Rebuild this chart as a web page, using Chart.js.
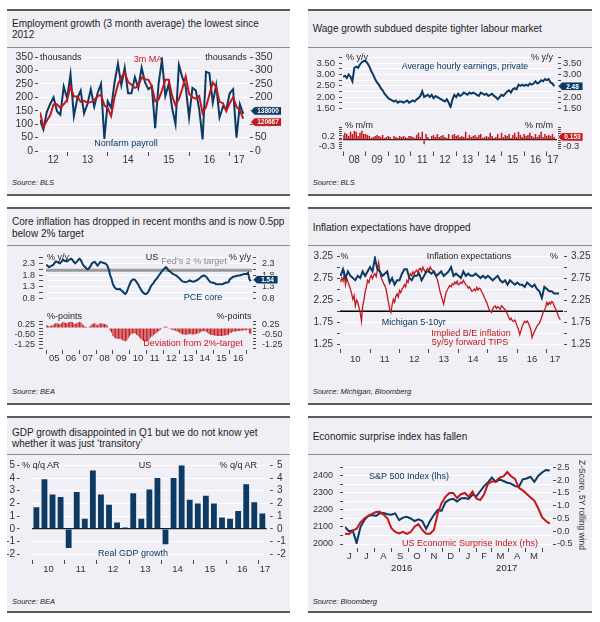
<!DOCTYPE html>
<html><head><meta charset="utf-8">
<script src="https://cdn.jsdelivr.net/npm/chart.js@4.4.1/dist/chart.umd.min.js"></script>
<style>
html,body{margin:0;padding:0;background:#fff;}
body{position:relative;width:600px;height:622px;overflow:hidden;font-family:'Liberation Sans',Arial,sans-serif;}
.panel{position:absolute;background:#efeff5;border-top:2px solid #5b5b5b;border-bottom:2px solid #5b5b5b;box-sizing:border-box;}
.sep{position:absolute;height:1px;background:#8d8d8d;}
.t{position:absolute;white-space:nowrap;line-height:1;}
canvas{position:absolute;}
</style></head><body>
<div class="panel" style="left:7px;top:9px;width:283px;height:187px"></div>
<div class="panel" style="left:308px;top:9px;width:284px;height:187px"></div>
<div class="panel" style="left:7px;top:207px;width:283px;height:198px"></div>
<div class="panel" style="left:308px;top:207px;width:284px;height:198px"></div>
<div class="panel" style="left:7px;top:416px;width:283px;height:197px"></div>
<div class="panel" style="left:308px;top:416px;width:284px;height:197px"></div>
<div class="sep" style="left:7px;top:47px;width:283px"></div>
<div class="sep" style="left:308px;top:47px;width:284px"></div>
<div class="sep" style="left:7px;top:245px;width:283px"></div>
<div class="sep" style="left:308px;top:245px;width:284px"></div>
<div class="sep" style="left:7px;top:454px;width:283px"></div>
<div class="sep" style="left:308px;top:454px;width:284px"></div>
<script>
// ---------------- DATA ----------------
// Panel 1: Nonfarm payroll, monthly change (thousands), May 2012 - May 2017
const nfp = [115, 80, 145, 175, 200, 148, 135, 240,
  195, 285, 130, 195, 225, 140, 175, 230, 165, 215, 250, 45,
  185, 160, 255, 325, 245, 310, 215, 215, 275, 235, 310, 255,
  230, 240, 85, 250, 340, 205, 250, 160, 100, 320, 275, 240,
  125, 235, 225, 155, 43, 295, 290, 180, 245, 125, 165, 155,
  215, 230, 50, 174, 138];
const nfpMA = [143, 90, 113, 133, 173, 174, 161, 174,
  190, 240, 203, 203, 183, 187, 180, 182, 190, 203, 210, 170,
  160, 130, 200, 247, 275, 293, 257, 247, 235, 242, 273, 267,
  265, 242, 185, 192, 225, 265, 265, 205, 170, 193, 232, 278,
  213, 200, 195, 205, 141, 164, 209, 255, 238, 183, 178, 148,
  178, 200, 165, 151, 120.667];

// Panel 2: Average hourly earnings, private, Jan 2008 - May 2017
const aheYoY = [2.9, 2.95, 2.85, 3.0, 2.9, 2.7, 3.3, 3.35, 3.3, 3.45, 3.55, 3.6,
  3.6, 3.5, 3.35, 3.15, 3.0, 2.8, 2.65, 2.55, 2.4, 2.3, 2.15, 2.05,
  1.95, 1.9, 1.85, 1.8, 1.85, 1.75, 1.8, 1.8, 1.75, 1.8, 1.85, 1.75,
  1.8, 1.85, 1.8, 1.9, 1.95, 2.05, 2.25, 2.0, 2.05, 2.1, 2.0, 2.1,
  1.95, 2.05, 2.0, 1.95, 1.9, 1.85, 1.8, 1.9, 1.75, 1.55, 1.9, 2.1,
  2.0, 2.15, 2.05, 2.1, 2.2, 2.15, 2.1, 2.2, 2.15, 2.2, 2.15, 2.1,
  2.05, 2.2, 2.15, 2.1, 2.15, 2.05, 2.1, 2.15, 2.05, 2.0, 1.9, 2.0,
  2.1, 2.05, 2.15, 2.25, 2.3, 2.2, 2.35, 2.4, 2.35, 2.55, 2.5, 2.55,
  2.5, 2.55, 2.5, 2.6, 2.55, 2.6, 2.7, 2.6, 2.65, 2.75, 2.7, 2.8,
  2.75, 2.8, 2.65, 2.6, 2.48];
const aheMoM = [0.25, 0.35, 0.3, 0.2, 0.4, 0.3, 0.45, 0.4, 0.2, 0.35, 0.45, 0.3,
  0.3, 0.25, 0.2, 0.1, 0.15, 0.2, 0.25, 0.2, 0.15, 0.25, 0.1, 0.15,
  0.2, 0.15, 0.05, 0.2, 0.15, 0.1, 0.2, 0.15, 0.2, 0.15, 0.1, 0.2,
  0.2, 0.15, 0.1, 0.25, 0.35, 0.15, 0.4, -0.2, 0.3, 0.15, -0.05, 0.2,
  0.25, 0.15, 0.3, 0.15, 0.2, 0.25, 0.15, 0.1, 0.3, 0.05, 0.25, 0.3,
  0.2, 0.25, 0.15, 0.2, 0.15, 0.4, 0.1, 0.25, 0.15, 0.2, 0.25, 0.15,
  0.25, 0.3, 0.1, 0.15, 0.2, 0.15, 0.35, 0.2, 0.1, 0.15, 0.3, 0.1,
  0.35, 0.15, 0.25, 0.2, 0.3, 0.1, 0.25, 0.35, 0.15, 0.4, 0.25, 0.15,
  0.3, 0.2, 0.25, 0.35, 0.2, 0.15, 0.3, 0.15, 0.25, 0.4, 0.15, 0.3,
  0.2, 0.25, 0.2, 0.3, 0.153];

// Panel 3: PCE core % y/y, Jan 2005 - Apr 2017, and deviation from 2% target
const pceCore = [2.23, 2.2, 2.14, 2.16, 2.2, 2.22, 2.3, 2.38, 2.36, 2.32, 2.3, 2.36,
  2.45, 2.42, 2.4, 2.38, 2.42, 2.46, 2.5, 2.44, 2.35, 2.3, 2.36, 2.42,
  2.5, 2.44, 2.3, 2.2, 2.14, 2.08, 2.04, 2.1, 2.18, 2.3, 2.34, 2.36,
  2.28, 2.2, 2.28, 2.36, 2.34, 2.32, 2.3, 2.28, 2.2, 2.05, 1.8, 1.65,
  1.41, 1.3, 1.23, 1.2, 1.2, 1.21, 1.15, 1.1, 1.03, 1.0, 1.08, 1.25,
  1.4, 1.53, 1.6, 1.62, 1.59, 1.5, 1.42, 1.3, 1.2, 1.1, 1.04, 1.0,
  1.0, 1.05, 1.15, 1.29, 1.38, 1.45, 1.55, 1.62, 1.69, 1.78, 1.86, 1.95,
  2.02, 2.08, 2.14, 2.08, 1.98, 1.96, 1.9, 1.85, 1.82, 1.8, 1.76, 1.7,
  1.65, 1.58, 1.53, 1.52, 1.5, 1.51, 1.53, 1.57, 1.55, 1.53, 1.52, 1.55,
  1.57, 1.6, 1.65, 1.71, 1.75, 1.78, 1.77, 1.72, 1.65, 1.56, 1.5, 1.48,
  1.47, 1.45, 1.42, 1.41, 1.41, 1.41, 1.41, 1.42, 1.45, 1.47, 1.48, 1.5,
  1.63, 1.66, 1.72, 1.74, 1.75, 1.77, 1.78, 1.78, 1.8, 1.82, 1.84, 1.84,
  1.84, 1.9, 1.62, 1.54];
const pceDeviation = [0.23, 0.2, 0.14, 0.16, 0.2, 0.22, 0.3, 0.38, 0.36, 0.32, 0.3, 0.36,
  0.45, 0.42, 0.4, 0.38, 0.42, 0.46, 0.5, 0.44, 0.35, 0.3, 0.36, 0.42,
  0.5, 0.44, 0.3, 0.2, 0.14, 0.08, 0.04, 0.1, 0.18, 0.3, 0.34, 0.36,
  0.28, 0.2, 0.28, 0.36, 0.34, 0.32, 0.3, 0.28, 0.2, 0.05, -0.2, -0.35,
  -0.59, -0.7, -0.77, -0.8, -0.8, -0.79, -0.85, -0.9, -0.97, -1.0, -0.92, -0.75,
  -0.6, -0.47, -0.4, -0.38, -0.41, -0.5, -0.58, -0.7, -0.8, -0.9, -0.96, -1.0,
  -1.0, -0.95, -0.85, -0.71, -0.62, -0.55, -0.45, -0.38, -0.31, -0.22, -0.14, -0.05,
  0.02, 0.08, 0.14, 0.08, -0.02, -0.04, -0.1, -0.15, -0.18, -0.2, -0.24, -0.3,
  -0.35, -0.42, -0.47, -0.48, -0.5, -0.49, -0.47, -0.43, -0.45, -0.47, -0.48, -0.45,
  -0.43, -0.4, -0.35, -0.29, -0.25, -0.22, -0.23, -0.28, -0.35, -0.44, -0.5, -0.52,
  -0.53, -0.55, -0.58, -0.59, -0.59, -0.59, -0.59, -0.58, -0.55, -0.53, -0.52, -0.5,
  -0.37, -0.34, -0.28, -0.26, -0.25, -0.23, -0.22, -0.22, -0.2, -0.18, -0.16, -0.16,
  -0.16, -0.1, -0.38, -0.46];
const fedTarget = 2.0;

// Panel 4: Michigan 5-10yr (monthly, Jan 2010 - Jun 2017), 5y5y TIPS B/E (semi-monthly, Jan 2010 - mid 2017)
const michigan = [2.8, 2.95, 2.75, 2.9, 2.8, 2.75, 2.7, 2.8, 2.75, 2.9, 2.8, 2.9,
  3.0, 2.9, 3.2, 2.95, 2.9, 2.8, 2.85, 2.9, 2.65, 2.75, 2.6, 2.7,
  2.7, 2.85, 2.95, 2.95, 2.75, 2.7, 2.8, 2.8, 2.85, 2.7, 2.8, 2.9,
  2.9, 2.85, 2.9, 2.8, 2.85, 2.9, 2.8, 2.85, 2.9, 3.0, 2.8, 2.85,
  2.8, 2.75, 2.9, 2.8, 2.85, 2.8, 2.8, 2.85, 2.8, 2.75, 2.8, 2.75,
  2.8, 2.75, 2.7, 2.75, 2.8, 2.7, 2.65, 2.7, 2.6, 2.7, 2.65, 2.6,
  2.65, 2.6, 2.6, 2.55, 2.65, 2.6, 2.55, 2.6, 2.5, 2.45, 2.3, 2.55,
  2.5, 2.45, 2.45, 2.4, 2.4, 2.4];
const tips5y5y = [2.66, 2.75, 2.68, 2.85, 2.6, 2.75, 2.66, 2.58, 2.5, 2.4, 2.27, 2.35,
  2.12, 2.25, 2.2, 2.08, 1.97, 1.77, 2.12, 2.25, 2.43, 2.55, 2.7, 2.65,
  2.75, 2.81, 2.74, 2.82, 2.85, 2.78, 2.93, 3.1, 2.9, 2.77, 2.7, 2.63,
  2.58, 2.5, 2.35, 2.2, 2.04, 1.97, 2.15, 2.27, 2.2, 2.33, 2.39, 2.32,
  2.47, 2.42, 2.5, 2.54, 2.6, 2.55, 2.7, 2.65, 2.78, 2.85, 2.8, 2.89,
  2.84, 2.9, 2.93, 2.86, 2.95, 2.97, 2.9, 3.0, 2.94, 2.88, 2.93, 2.97,
  2.9, 3.0, 2.95, 2.92, 2.89, 2.82, 2.77, 2.7, 2.58, 2.45, 2.35, 2.25,
  2.16, 2.3, 2.43, 2.48, 2.54, 2.58, 2.55, 2.62, 2.6, 2.66, 2.62, 2.68,
  2.6, 2.62, 2.66, 2.63, 2.7, 2.65, 2.6, 2.58, 2.52, 2.55, 2.5, 2.45,
  2.47, 2.5, 2.46, 2.54, 2.48, 2.52, 2.5, 2.44, 2.39, 2.32, 2.26, 2.2,
  2.12, 2.04, 2.0, 1.97, 2.05, 2.1, 2.12, 2.06, 2.1, 2.08, 2.04, 2.12,
  2.1, 2.06, 2.04, 1.98, 1.93, 1.86, 1.81, 1.84, 1.78, 1.77, 1.8, 1.73,
  1.65, 1.58, 1.47, 1.56, 1.66, 1.72, 1.77, 1.74, 1.78, 1.73, 1.66, 1.58,
  1.4, 1.48, 1.54, 1.6, 1.66, 1.7, 1.73, 1.8, 1.88, 1.97, 2.02, 2.08,
  2.2, 2.14, 2.2, 2.16, 2.22, 2.2, 2.12, 2.06, 2.0, 1.92, 1.85, 1.81];
const inflationRef = 2.0;

// Panel 5: Real GDP growth % q/q AR, 2010Q1 - 2017Q1
const gdp = [1.7, 3.9, 2.7, 2.5, -1.5, 2.9, 0.8, 4.6, 2.7, 1.9, 0.5, 0.1,
  2.8, 0.8, 3.1, 4.0, -1.2, 4.0, 5.0, 2.3, 2.0, 2.6, 2.0, 0.9,
  0.8, 1.4, 3.5, 2.1, 1.2];

// Panel 6: weekly, early Jun 2016 - early Jun 2017
const spx = [2100, 2075, 2080, 2005, 2100, 2140, 2165, 2170, 2165, 2180, 2182, 2175,
  2172, 2180, 2140, 2155, 2160, 2150, 2135, 2145, 2135, 2090, 2135, 2170,
  2200, 2195, 2245, 2260, 2265, 2250, 2268, 2270, 2265, 2290, 2280, 2310,
  2340, 2362, 2390, 2365, 2380, 2370, 2360, 2355, 2340, 2335, 2380, 2385,
  2395, 2365, 2400, 2420, 2435, 2432];
const esi = [-0.1, -0.12, 0.02, 0.1, 0.35, 0.5, 0.6, 0.68, 0.75, 0.76, 0.65, 0.5,
  0.12, -0.03, -0.09, -0.02, -0.1, -0.03, 0.18, 0.28, 0.05, -0.1, -0.1, 0.05,
  0.7, 1.1, 1.35, 1.5, 1.5, 1.3, 1.45, 1.5, 1.35, 1.55, 1.28, 1.22,
  1.45, 1.85, 1.95, 1.95, 2.1, 2.15, 2.32, 2.15, 2.05, 1.7, 1.6, 1.47,
  1.32, 1.2, 0.9, 0.55, 0.4, 0.3];
const monthBoundaryDays = [30, 61, 92, 122, 153, 183, 214, 245, 273, 304, 334, 365];
const monthLetters = ['J', 'J', 'A', 'S', 'O', 'N', 'D', 'J', 'F', 'M', 'A', 'M'];

// ---------------- HELPERS ----------------
const NAVY = '#0c3a63', RED = '#c4161c', TICK = '#4a4a4a', TXT = '#333333', GRIDC = '#ffffff', NONE = 'rgba(0,0,0,0)';
Chart.defaults.font.family = "'Liberation Sans', Arial, sans-serif";
Chart.defaults.font.size = 10;
Chart.defaults.color = TXT;
Chart.defaults.animation = false;
Chart.defaults.events = [];
Chart.defaults.plugins.legend.display = false;
Chart.defaults.plugins.tooltip.enabled = false;
Chart.defaults.elements.point.radius = 0;
Chart.defaults.elements.line.tension = 0;

function monthly(y0, m0, vals) { return vals.map((v, i) => ({x: y0 + (m0 - 1 + i) / 12, y: v})); }
function spaced(x0, step, vals) { return vals.map((v, i) => ({x: x0 + i * step, y: v})); }
function flat(x0, x1, v) { return [{x: x0, y: v}, {x: x1, y: v}]; }

const badgePlugin = {
  id: 'badges',
  afterDatasetsDraw(chart) {
    const items = chart.$badges || [];
    const ctx = chart.ctx, ca = chart.chartArea;
    items.forEach(b => {
      const ds = chart.data.datasets[b.ds];
      const last = ds.data[ds.data.length - 1];
      const ys = chart.scales[ds.yAxisID || 'y'];
      const y = ys.getPixelForValue(last.y) + (b.dy || 0);
      const x0 = ca.right + (b.dx || 2), w = b.w, h = b.h || 8.5;
      ctx.save();
      ctx.beginPath();
      ctx.moveTo(x0, y); ctx.lineTo(x0 + 4, y - h / 2); ctx.lineTo(x0 + w, y - h / 2);
      ctx.lineTo(x0 + w, y + h / 2); ctx.lineTo(x0 + 4, y + h / 2); ctx.closePath();
      ctx.fillStyle = b.color; ctx.fill();
      ctx.strokeStyle = '#ffffff'; ctx.lineWidth = 0.8; ctx.stroke();
      ctx.fillStyle = '#ffffff'; ctx.font = "bold 6.5px 'Liberation Sans', Arial, sans-serif";
      ctx.textAlign = 'center'; ctx.textBaseline = 'middle';
      ctx.fillText(b.fmt(last.y), x0 + 2 + w / 2, y + 0.5);
      ctx.restore();
    });
  }
};

function yAx(o) {
  const vals = [];
  for (let k = 0; o.min + k * o.step <= o.max + 1e-9; k++) vals.push(+(o.min + k * o.step).toFixed(6));
  const show = o.show || (() => true);
  const gridCol = vals.map((v, i) => {
    if (o.zero && Math.abs(v) < 1e-9) return '#1a1a1a';
    if (o.grid === 'all') return GRIDC;
    return NONE;
  });
  const gridW = vals.map(v => (o.zero && Math.abs(v) < 1e-9) ? 1.3 : 1);
  return {
    type: 'linear', position: o.pos || 'left', min: o.min, max: o.max, bounds: 'data',
    afterBuildTicks: s => { s.ticks = vals.map(v => ({value: v})); },
    afterFit: s => { s.width = o.w; },
    ticks: {autoSkip: false, padding: o.pad, color: TXT, font: {size: o.fs || 10},
      callback: (v, i) => show(v, i) ? o.fmt(v) : ''},
    grid: {
      display: true, drawOnChartArea: !!(o.grid || o.zero),
      lineWidth: gridW, color: gridCol,
      drawTicks: true, tickLength: o.tl, tickWidth: 1, tickColor: TICK, tickBorderDash: o.dash || []
    },
    border: {display: false}
  };
}

function xAx(o) {
  if (o.display === false) {
    return {type: 'linear', position: 'bottom', min: o.min, max: o.max, bounds: 'data', offset: false, display: false};
  }
  const L = (o.marks || []).map(v => ({v, s: '', m: true}))
    .concat((o.labels || []).map(([v, s]) => ({v, s, m: false})))
    .sort((a, b) => a.v - b.v);
  return {
    type: 'linear', position: 'bottom', min: o.min, max: o.max, bounds: 'data', offset: false,
    afterBuildTicks: s => { s.ticks = L.map(t => ({value: t.v})); },
    afterFit: s => { s.height = o.h; },
    ticks: {autoSkip: false, maxRotation: 0, minRotation: 0, padding: o.pad, color: TXT,
      font: {size: o.fs || 10}, callback: (v, i) => (L[i] ? L[i].s : '')},
    grid: {offset: false, drawOnChartArea: false, drawTicks: true, tickLength: o.tl, tickWidth: 1,
      tickBorderDash: o.dash || [], tickColor: L.map(t => t.m ? TICK : NONE)},
    border: {display: false}
  };
}

function yearTicks(y0, y1) { const a = []; for (let y = y0; y <= y1; y++) a.push(y); return a; }
function yearLabels(y0, y1) { const a = []; for (let y = y0; y <= y1; y++) a.push([y + 0.5, String(y % 100).padStart(2, '0')]); return a; }

function makeChart(box, cfg, badges) {
  const c = document.createElement('canvas');
  c.width = box.w; c.height = box.h;
  c.style.left = box.l + 'px'; c.style.top = box.t + 'px';
  c.style.width = box.w + 'px'; c.style.height = box.h + 'px';
  document.body.appendChild(c);
  cfg.options = Object.assign({responsive: false, maintainAspectRatio: false}, cfg.options);
  cfg.plugins = [badgePlugin];
  try {
    const ch = new Chart(c, cfg);
    ch.$badges = badges || [];
    ch.draw();
    return ch;
  } catch (e) { console.error(e); }
}

function T(x, y, s, o) {
  o = o || {};
  const d = document.createElement('div');
  d.className = 't'; d.textContent = s;
  const a = o.a || 'l';
  d.style.left = x + 'px'; d.style.top = y + 'px';
  d.style.transform = 'translate(' + (a === 'l' ? 0 : a === 'c' ? -50 : -100) + '%, -50%)' + (o.rot ? ' rotate(' + o.rot + 'deg)' : '');
  d.style.color = o.c || '#1e1e1e';
  d.style.fontSize = (o.s || 9) + 'px';
  if (o.i) d.style.fontStyle = 'italic';
  if (o.w) d.style.fontWeight = o.w;
  document.body.appendChild(d);
}

// ---------------- PANEL 1 ----------------
makeChart({l: 7, t: 48, w: 283, h: 122}, {
  type: 'line',
  data: {datasets: [
    {data: monthly(2012, 5, nfpMA), borderColor: RED, borderWidth: 2},
    {data: monthly(2012, 5, nfp), borderColor: NAVY, borderWidth: 2}
  ]},
  options: {
    layout: {padding: {top: 9, bottom: 0, left: 0, right: 0}},
    scales: {
      x: xAx({min: 2012.333, max: 2017.45, marks: yearTicks(2013, 2017),
        labels: [[2012.66, '12'], [2013.5, '13'], [2014.5, '14'], [2015.5, '15'], [2016.5, '16'], [2017.23, '17']],
        h: 19, tl: 5, dash: [0, 1, 4, 10], pad: -2, fs: 10}),
      y: yAx({pos: 'left', min: 0, max: 350, step: 50, w: 33, tl: 5, dash: [3, 10], pad: 2, fs: 10.5, fmt: v => String(v), grid: 'all'}),
      y2: yAx({pos: 'right', min: 0, max: 350, step: 50, w: 42, tl: 5, dash: [0, 2, 3, 10], pad: 2, fs: 10.5, fmt: v => String(v)})
    }
  }
}, [
  {ds: 1, color: NAVY, fmt: v => String(Math.round(v * 1000)), dx: 2.5, w: 31, dy: -3},
  {ds: 0, color: RED, fmt: v => String(Math.round(v * 1000)), dx: 2.5, w: 31, dy: 3.5}
]);

// ---------------- PANEL 2 ----------------
makeChart({l: 308, t: 48, w: 284, h: 70}, {
  type: 'line',
  data: {datasets: [{data: monthly(2008, 1, aheYoY), borderColor: NAVY, borderWidth: 2}]},
  options: {
    layout: {padding: {top: 8, bottom: 7, left: 0, right: 0}},
    scales: {
      x: xAx({min: 2008, max: 2017.45, display: false}),
      y: yAx({pos: 'left', min: 1.5, max: 3.75, step: 0.25, w: 35, tl: 4, dash: [3, 10], pad: 4, fs: 9.5,
        fmt: v => v.toFixed(2), show: (v, i) => i % 2 === 0, grid: 'all'}),
      y2: yAx({pos: 'right', min: 1.5, max: 3.75, step: 0.25, w: 35, tl: 4, dash: [0, 1, 3, 10], pad: 2, fs: 9.5,
        fmt: v => v.toFixed(2), show: (v, i) => i % 2 === 0})
    }
  }
}, [{ds: 0, color: NAVY, fmt: v => v.toFixed(2), dx: 1, w: 25}]);
makeChart({l: 308, t: 118, w: 284, h: 52}, {
  type: 'bar',
  data: {datasets: [{data: monthly(2008, 1, aheMoM), backgroundColor: RED, borderWidth: 0, barPercentage: 0.8, categoryPercentage: 1}]},
  options: {
    layout: {padding: {top: 5, bottom: 0, left: 0, right: 0}},
    scales: {
      x: xAx({min: 2008, max: 2017.45, marks: yearTicks(2008, 2017),
        labels: yearLabels(2008, 2016).concat([[2017.27, '17']]),
        h: 21.7, tl: 8, dash: [0, 3.5, 4.5, 10], pad: -1.6, fs: 10}),
      y: yAx({pos: 'left', min: -0.4, max: 0.6, step: 0.1, w: 35, tl: 4, dash: [3, 10], pad: 4, fs: 9.5,
        fmt: v => v.toFixed(1), show: (v, i) => i % 5 === 1, zero: true}),
      y2: yAx({pos: 'right', min: -0.4, max: 0.6, step: 0.1, w: 35, tl: 4, dash: [0, 1, 3, 10], pad: 2, fs: 9.5,
        fmt: v => v.toFixed(1), show: (v, i) => i % 5 === 1})
    }
  }
}, [{ds: 0, color: RED, fmt: v => v.toFixed(3), dx: 1, w: 25}]);

// ---------------- PANEL 3 ----------------
makeChart({l: 7, t: 246, w: 283, h: 64}, {
  type: 'line',
  data: {datasets: [
    {data: monthly(2005, 1, pceCore), borderColor: NAVY, borderWidth: 2},
    {data: flat(2005, 2017.32, fedTarget), borderColor: '#9a9a9a', borderWidth: 3}
  ]},
  options: {
    layout: {padding: {top: 9.5, bottom: 6.7, left: 0, right: 0}},
    scales: {
      x: xAx({min: 2005, max: 2017.32, display: false}),
      y: yAx({pos: 'left', min: 0.8, max: 2.55, step: 0.25, w: 39, tl: 7, dash: [4, 10], pad: 4, fs: 9,
        fmt: v => v.toFixed(1), show: (v, i) => i % 2 === 0, grid: 'all'}),
      y2: yAx({pos: 'right', min: 0.8, max: 2.55, step: 0.25, w: 38, tl: 4, dash: [0, 1, 3, 10], pad: 6, fs: 9,
        fmt: v => v.toFixed(1), show: (v, i) => i % 2 === 0})
    }
  }
}, [{ds: 0, color: NAVY, fmt: v => v.toFixed(2), dx: 1, w: 25, dy: -1.5}]);
makeChart({l: 7, t: 310, w: 283, h: 58}, {
  type: 'bar',
  data: {datasets: [{data: monthly(2005, 1, pceDeviation), backgroundColor: RED, borderWidth: 0, barPercentage: 0.75, categoryPercentage: 1}]},
  options: {
    layout: {padding: {top: 7.1, bottom: 0, left: 0, right: 0}},
    scales: {
      x: xAx({min: 2005, max: 2017.32, marks: yearTicks(2005, 2017), labels: yearLabels(2005, 2016),
        h: 19.8, tl: 6, dash: [0, 2, 4, 10], pad: -1.2, fs: 9.5}),
      y: yAx({pos: 'left', min: -1.5, max: 0.5, step: 0.25, w: 39, tl: 7, dash: [4, 10], pad: 4, fs: 9,
        fmt: v => v.toFixed(2), show: (v, i) => i % 3 === 1}),
      y2: yAx({pos: 'right', min: -1.5, max: 0.5, step: 0.25, w: 38, tl: 4, dash: [0, 1, 3, 10], pad: 6, fs: 9,
        fmt: v => v.toFixed(2), show: (v, i) => i % 3 === 1})
    }
  }
});

// ---------------- PANEL 4 ----------------
makeChart({l: 308, t: 246, w: 284, h: 122}, {
  type: 'line',
  data: {datasets: [
    {data: monthly(2010, 1, michigan), borderColor: NAVY, borderWidth: 2},
    {data: spaced(2010, 1 / 24, tips5y5y), borderColor: RED, borderWidth: 1.3},
    {data: flat(2009.98, 2017.55, inflationRef), borderColor: '#000000', borderWidth: 1.5}
  ]},
  options: {
    layout: {padding: {top: 10, bottom: 0, left: 0, right: 0}},
    scales: {
      x: xAx({min: 2009.98, max: 2017.55, marks: yearTicks(2010, 2017),
        labels: yearLabels(2010, 2016).concat([[2017.28, '17']]),
        h: 23.7, tl: 9, dash: [0, 5, 4, 10], pad: 0, fs: 9.5}),
      y: yAx({pos: 'left', min: 1.25, max: 3.25, step: 0.25, w: 32, tl: 3, dash: [], pad: 4, fs: 10,
        fmt: v => v.toFixed(2), show: (v, i) => i % 2 === 0, grid: 'all'}),
      y2: yAx({pos: 'right', min: 1.25, max: 3.25, step: 0.25, w: 29, tl: 4, dash: [0, 1, 3, 10], pad: 4, fs: 10,
        fmt: v => v.toFixed(2), show: (v, i) => i % 2 === 0})
    }
  }
});

// ---------------- PANEL 5 ----------------
makeChart({l: 7, t: 455, w: 283, h: 122}, {
  type: 'bar',
  data: {datasets: [{data: spaced(2010.125, 0.25, gdp), backgroundColor: NAVY, borderWidth: 0, barPercentage: 0.86, categoryPercentage: 1}]},
  options: {
    layout: {padding: {top: 10, bottom: 0, left: 0, right: 0}},
    scales: {
      x: xAx({min: 2009.98, max: 2017.26, marks: yearTicks(2010, 2017),
        labels: yearLabels(2010, 2016).concat([[2017.21, '17']]),
        h: 22.7, tl: 10, dash: [0, 6, 4, 10], pad: -1, fs: 9.5}),
      y: yAx({pos: 'left', min: -2, max: 5, step: 1, w: 24.7, tl: 14.7, dash: [2.5, 20], pad: 2, fs: 10,
        fmt: v => String(v), grid: 'all', zero: true}),
      y2: yAx({pos: 'right', min: -2, max: 5, step: 1, w: 23.3, tl: 6, dash: [0, 3.3, 2.7, 10], pad: 4.3, fs: 10,
        fmt: v => String(v)})
    }
  }
});

// ---------------- PANEL 6 ----------------
makeChart({l: 308, t: 455, w: 284, h: 122}, {
  type: 'line',
  data: {datasets: [
    {data: spaced(7, 7, esi), yAxisID: 'y2', borderColor: RED, borderWidth: 2},
    {data: spaced(7, 7, spx), yAxisID: 'y', borderColor: NAVY, borderWidth: 2}
  ]},
  options: {
    layout: {padding: {top: 9.5, bottom: 0, left: 0, right: 0}},
    scales: {
      x: xAx({min: 7, max: 382, marks: monthBoundaryDays,
        labels: monthLetters.map((s, k) => [((k === 0 ? 0 : monthBoundaryDays[k - 1]) + monthBoundaryDays[k]) / 2, s]),
        h: 33, tl: 8, dash: [0, 4, 4, 10], pad: -1.3, fs: 9.5}),
      y: yAx({pos: 'left', min: 2000, max: 2450, step: 50, w: 37, tl: 5, dash: [3, 10], pad: 7, fs: 9,
        fmt: v => String(v), show: (v, i) => i % 2 === 0, grid: 'all'}),
      y2: yAx({pos: 'right', min: -0.5, max: 2.5, step: 0.5, w: 40, tl: 4, dash: [0, 1, 3, 10], pad: 1, fs: 9,
        fmt: v => v.toFixed(1)})
    }
  }
});

// ---------------- TEXT ----------------
const TS = 10;
T(12, 24, 'Employment growth (3 month average) the lowest since', {s: TS});
T(12, 34.5, '2012', {s: TS});
T(312.7, 29, 'Wage growth subdued despite tighter labour market', {s: TS});
T(12, 222, 'Core inflation has dropped in recent months and is now 0.5pp', {s: TS});
T(12, 233.5, 'below 2% target', {s: TS});
T(312.7, 227.7, 'Inflation expectations have dropped', {s: TS});
T(12, 433.3, 'GDP growth disappointed in Q1 but we do not know yet', {s: TS});
T(12, 443.8, 'whether it was just \u2018transitory\u2019', {s: TS});
T(312.7, 436.7, 'Economic surprise index has fallen', {s: TS});

T(12, 183, 'Source: BLS', {s: 7.5, i: 1});
T(312.7, 183, 'Source: BLS', {s: 7.5, i: 1});
T(12, 391.7, 'Source: BEA', {s: 7.5, i: 1});
T(312.7, 392, 'Source: Michigan, Bloomberg', {s: 7.5, i: 1});
T(12, 601.7, 'Source: BEA', {s: 7.5, i: 1});
T(312.7, 602.3, 'Source: Bloomberg', {s: 7.5, i: 1});

// panel 1
T(40, 57, 'thousands', {s: 9});
T(246.7, 57, 'thousands', {s: 9, a: 'r'});
T(148, 59.3, '3m MA', {s: 9, a: 'c', c: RED});
T(126, 142.7, 'Nonfarm payroll', {s: 9, a: 'c', c: NAVY});
// panel 2
T(346, 57, '% y/y', {s: 9});
T(553, 57, '% y/y', {s: 9, a: 'r'});
T(465, 66, 'Average hourly earnings, private', {s: 8.8, a: 'c', c: NAVY});
T(345, 124.5, '% m/m', {s: 9});
T(553, 124.5, '% m/m', {s: 9, a: 'r'});
// panel 3
T(47, 256.7, '% y/y', {s: 9});
T(152, 256.7, 'US', {s: 9, a: 'c'});
T(194, 261, 'Fed\u2019s 2 % target', {s: 9, a: 'c', c: '#8a8a8a'});
T(251, 256.7, '% y/y', {s: 9, a: 'r'});
T(203, 297.3, 'PCE core', {s: 9, a: 'c', c: NAVY});
T(47, 316, '%-points', {s: 9});
T(251.5, 316, '%-points', {s: 9, a: 'r'});
T(193, 342.7, 'Deviation from 2%-target', {s: 9, a: 'c', c: RED});
// panel 4
T(340.5, 256, '%', {s: 9});
T(469, 256, 'Inflation expectations', {s: 9, a: 'c'});
T(558, 256, '%', {s: 9, a: 'r'});
T(413.7, 321.7, 'Michigan 5-10yr', {s: 9, a: 'c', c: NAVY});
T(471, 333.3, 'Implied B/E inflation', {s: 9, a: 'c', c: RED});
T(470, 342, '5y/5y forward TIPS', {s: 9, a: 'c', c: RED});
// panel 5
T(22, 465, '% q/q AR', {s: 9});
T(145, 465, 'US', {s: 9, a: 'c'});
T(257, 465, '% q/q AR', {s: 9, a: 'r'});
T(133, 553.3, 'Real GDP growth', {s: 9, a: 'c', c: NAVY});
// panel 6
T(409, 476, 'S&P 500 Index (lhs)', {s: 9, a: 'c', c: NAVY});
T(470, 542.7, 'US Economic Surprise Index (rhs)', {s: 9, a: 'c', c: RED});
T(401.7, 568.3, '2016', {s: 9.5, a: 'c'});
T(506.7, 568.3, '2017', {s: 9.5, a: 'c'});
T(582, 504.5, 'Z-Score, 5Y rolling wind', {s: 8.5, a: 'c', rot: 90});
</script>
</body></html>
